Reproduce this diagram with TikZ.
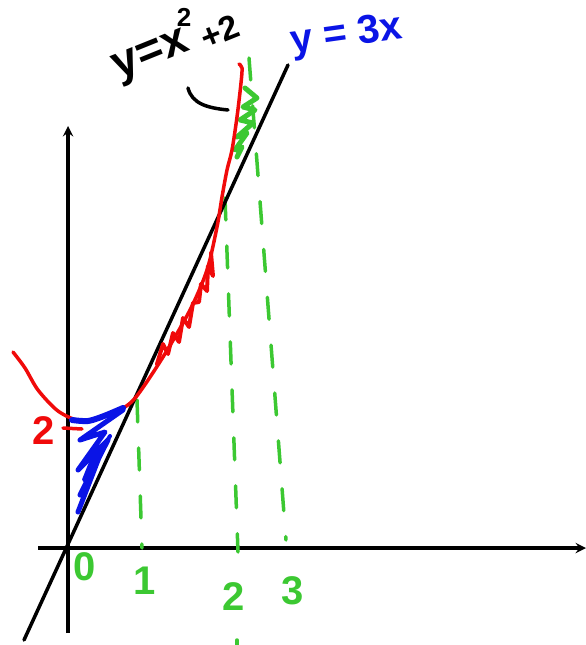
\documentclass[tikz,border=0pt]{standalone}
\usepackage{fontspec}
\setmainfont{Liberation Sans}
\usetikzlibrary{arrows,positioning}

\definecolor{penred}{RGB}{240,10,10}
\definecolor{penblue}{RGB}{10,20,230}
\definecolor{pengreen}{RGB}{60,200,50}

\begin{document}
\begin{tikzpicture}[
    x=1pt, y=-1pt,
    axis/.style={->, >=stealth, line width=3.5pt},
    curve/.style={line width=3.5pt, line cap=round, line join=round},
    guide/.style={pengreen, line width=3.5pt, line cap=round, dash pattern=on 22pt off 26pt},
    scribble/.style={line width=4pt, line cap=round, line join=round},
    lbl/.style={inner sep=0pt, font=\fontsize{40}{40}\selectfont\bfseries}
]
    \useasboundingbox (0,0) rectangle (586,645);

    % Axes
    \coordinate (ybot) at (68,633);
    \coordinate (ytop) at (68,126);
    \coordinate (xleft) at (38,548);
    \coordinate (xright) at (586,548);
    \draw[axis] (ybot) -- (ytop);
    \draw[axis] (xleft) -- (xright);

    % Green guides
    \coordinate (g1a) at (137,400);
    \coordinate (g1b) at (142,548);
    \coordinate (g2a) at (225,198);
    \coordinate (g2b) at (238,552);
    \coordinate (g3a) at (249,58);
    \coordinate (g3b) at (286,540);
    \draw[guide] (g1a) -- (g1b);
    \draw[guide] (g2a) -- (g2b);
    \draw[guide] (g3a) -- (g3b);
    \draw[pengreen, line width=3.5pt, line cap=round] (237,640) -- (237,645);
    \draw[pengreen, scribble, line width=5pt] (245,88) -- (257,98) -- (243,107) -- (255,110) -- (240,120)
        -- (253,123) -- (237,137) -- (247,133) -- (235,150) -- (242,147) -- (237,157);

    % Line y = 3x
    \coordinate (la) at (24,640);
    \coordinate (lb) at (288,65);
    \draw[curve] (la) -- (lb);

    % Parabola y = x^2 + 2
    \draw[penred, curve] plot[smooth] coordinates {
        (13,352) (25,368) (38,390) (58,411) (80,421) (100,418) (120,410) (136,397)
        (163,357) (190,310) (207,270) (217,227) (222,197) (227,170) (232,150)
        (237,117) (241,83) (242,68) (239,64)};
    \draw[penred, scribble] (157,364) -- (163,344) -- (168,354) -- (173,333)
        -- (179,342) -- (183,318) -- (189,327) -- (193,303) -- (199,302) -- (201,284)
        -- (207,291) -- (208,266) -- (213,276) -- (211,253);
    \draw[penred, curve] (63,428) -- (82,429);

    % Blue region
    \draw[penblue, scribble, line width=6pt] plot[smooth] coordinates {(72,420) (88,421) (104,416) (123,408)};
    \draw[penblue, scribble, line width=5pt] (123,410) -- (80,440) -- (105,432) -- (78,470)
        -- (108,440) -- (80,495) -- (100,455) -- (78,512);
    \draw[penblue, scribble] (110,436) -- (84,480) -- (96,450);

    % Labels
    \node[lbl, penred] (two) at (44,431) {2};
    \node[lbl, pengreen] (n0) at (85,567) {0};
    \node[lbl, pengreen] (n1) at (145,581) {1};
    \node[lbl, pengreen] (n2) at (234,597) {2};
    \node[lbl, pengreen] (n3) at (293,591) {3};
    \node[lbl, penblue, rotate=8] (eqline) at (347,36) {y = 3x};
    \node[lbl, rotate=22, font=\fontsize{46}{46}\selectfont\bfseries] (eqpar) at (152,58) {y=x};
    \node[lbl, font=\fontsize{26}{26}\selectfont\bfseries] (eqsq) at (184,17) {2};
    \node[lbl, rotate=22, font=\fontsize{34}{34}\selectfont\bfseries] (eqplus) at (220,32) {+2};
    \coordinate (pa) at (188,88);
    \coordinate (pb) at (228,110);
    \draw[curve] (pa) .. controls (192,104) and (208,108) .. (pb);
\end{tikzpicture}
\end{document}
